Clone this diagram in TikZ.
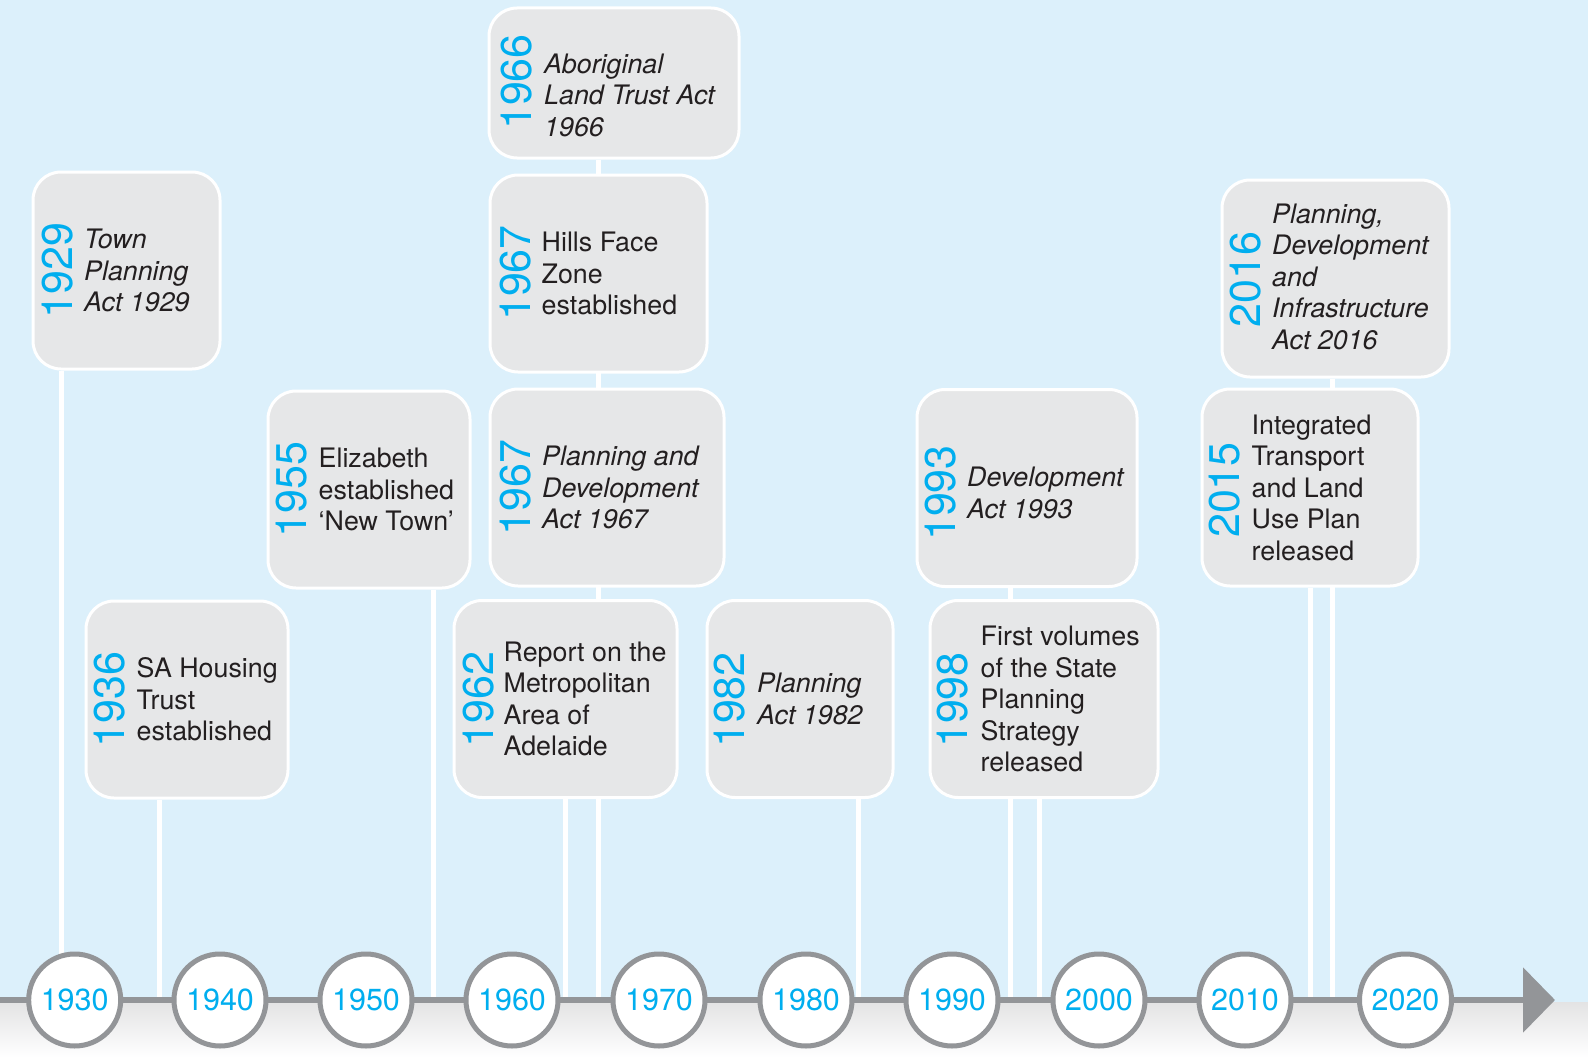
\documentclass[tikz,border=0pt]{standalone}
\usepackage{fontspec}
\setmainfont{TeX Gyre Heros}
\usetikzlibrary{arrows.meta}
\definecolor{bgblue}{HTML}{DCF0FB}
\definecolor{boxgray}{HTML}{E6E7E8}
\definecolor{tlgray}{HTML}{939598}
\definecolor{yearcyan}{HTML}{00AEEF}
\definecolor{inkblack}{HTML}{231F20}
\definecolor{shadegray}{HTML}{E3E3E4}
\pgfdeclarelayer{bg}
\pgfdeclarelayer{conn}
\pgfsetlayers{bg,conn,main}
\begin{document}
\begin{tikzpicture}[x=1pt,y=-1pt,
  evbox/.style={draw=white,line width=3pt,fill=boxgray,rounded corners=28pt,inner sep=0pt,minimum height=197pt},
  yr/.style={rotate=90,text=yearcyan,font=\fontsize{43}{43}\selectfont,inner sep=0pt},
  desc/.style={anchor=west,align=left,text=inkblack,font=\fontsize{26.8}{31.5}\selectfont,inner sep=0pt},
  descit/.style={anchor=west,align=left,text=inkblack,font=\fontsize{26.8}{31.5}\selectfont\itshape,inner sep=0pt},
  decade/.style={circle,draw=tlgray,line width=5pt,fill=white,minimum size=92pt,inner sep=0pt,text=yearcyan,font=\fontsize{30.5}{30.5}\selectfont},
  link/.style={draw=white,line width=5pt}
]
\useasboundingbox (0,0) rectangle (1588,1057);
\begin{pgfonlayer}{bg}
  \fill[bgblue] (0,0) rectangle (1588,1002);
  \shade[top color=shadegray,bottom color=white] (0,1002) rectangle (1588,1057);
\end{pgfonlayer}

% event boxes
\node[evbox,minimum width=187pt] (b1929) at (126.5,270.5) {};
\node[yr] (y1929) at (57.5,270.5) {1929};
\node[descit] (t1929) at (84,270.5) {Town\\Planning\\Act 1929};

\node[evbox,minimum width=202pt] (b1936) at (187,699.5) {};
\node[yr] (y1936) at (110,699.5) {1936};
\node[desc] (t1936) at (136.5,699.5) {SA Housing\\Trust\\established};

\node[evbox,minimum width=202pt] (b1955) at (369,489.5) {};
\node[yr] (y1955) at (291.5,489.5) {1955};
\node[desc] (t1955) at (318.5,489.5) {Elizabeth\\established\\‘New Town’};

\node[evbox,minimum width=250pt,minimum height=150pt] (b1966) at (614,83) {};
\node[yr] (y1966) at (516.7,82) {1966};
\node[descit] (t1966) at (544,95) {Aboriginal\\Land Trust Act\\1966};

\node[evbox,minimum width=217pt] (b1967h) at (598.5,273.5) {};
\node[yr] (y1967h) at (516,273) {1967};
\node[desc] (t1967h) at (541.5,273.5) {Hills Face\\Zone\\established};

\node[evbox,minimum width=234pt] (b1967p) at (607,487.5) {};
\node[yr] (y1967p) at (516,487.5) {1967};
\node[descit] (t1967p) at (542,487.5) {Planning and\\Development\\Act 1967};

\node[evbox,minimum width=223pt] (b1962) at (565.5,699) {};
\node[yr] (y1962) at (478.5,699.5) {1962};
\node[desc] (t1962) at (503.5,699) {Report on the\\Metropolitan\\Area of\\Adelaide};

\node[evbox,minimum width=186pt] (b1982) at (800,699) {};
\node[yr] (y1982) at (730,700) {1982};
\node[descit] (t1982) at (757,699) {Planning\\Act 1982};

\node[evbox,minimum width=220pt] (b1993) at (1027,488) {};
\node[yr] (y1993) at (941,493) {1993};
\node[descit] (t1993) at (967,493) {Development\\Act 1993};

\node[evbox,minimum width=228pt] (b1998) at (1044,699) {};
\node[yr] (y1998) at (953,700) {1998};
\node[desc] (t1998) at (980.5,699) {First volumes\\of the State\\Planning\\Strategy\\released};

\node[evbox,minimum width=227pt] (b2016) at (1335.5,278.5) {};
\node[yr] (y2016) at (1246,279.5) {2016};
\node[descit] (t2016) at (1272,276.5) {Planning,\\Development\\and\\Infrastructure\\Act 2016};

\node[evbox,minimum width=216pt] (b2015) at (1310,487.5) {};
\node[yr] (y2015) at (1225,490) {2015};
\node[desc] (t2015) at (1251.5,487.5) {Integrated\\Transport\\and Land\\Use Plan\\released};

% decade markers
\node[decade] (c1930) at (74.7,1000) {1930};
\node[decade] (c1940) at (220,1000) {1940};
\node[decade] (c1950) at (366,1000) {1950};
\node[decade] (c1960) at (512,1000) {1960};
\node[decade] (c1970) at (659,1000) {1970};
\node[decade] (c1980) at (806,1000) {1980};
\node[decade] (c1990) at (952,1000) {1990};
\node[decade] (c2000) at (1099,1000) {2000};
\node[decade] (c2010) at (1245,1000) {2010};
\node[decade] (c2020) at (1405.5,1000) {2020};

% connector end points on the timeline
\coordinate (e1929) at (61,1000);
\coordinate (e1936) at (159,1000);
\coordinate (e1955) at (433,1000);
\coordinate (e1962) at (565,1000);
\coordinate (e1966) at (598,1000);
\coordinate (e1982) at (858.5,1000);
\coordinate (e1993) at (1010,1000);
\coordinate (e1998) at (1039,1000);
\coordinate (e2015) at (1310,1000);
\coordinate (e2016) at (1332,1000);
\coordinate (tlstart) at (0,1000);
\coordinate (tlend) at (1555,1000);

\begin{pgfonlayer}{conn}
  \draw[link] (b1929.south -| e1929) -- (e1929);
  \draw[link] (b1936.south -| e1936) -- (e1936);
  \draw[link] (b1955.south -| e1955) -- (e1955);
  \draw[link] (b1962.south -| e1962) -- (e1962);
  \draw[link] (b1966.south -| e1966) -- (e1966);
  \draw[link] (b1982.south -| e1982) -- (e1982);
  \draw[link] (b1993.south -| e1993) -- (e1993);
  \draw[link] (b1998.south -| e1998) -- (e1998);
  \draw[link] (b2015.south -| e2015) -- (e2015);
  \draw[link] (b2016.south -| e2016) -- (e2016);
  \draw[tlgray,line width=6pt,-{Triangle[length=32pt,width=64pt]}] (tlstart) -- (tlend);
\end{pgfonlayer}
\end{tikzpicture}
\end{document}
